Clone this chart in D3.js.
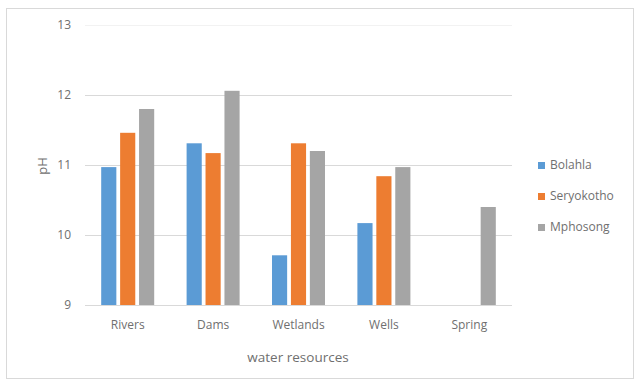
<!DOCTYPE html>
<html><head><meta charset="utf-8">
<script src="https://cdn.jsdelivr.net/npm/d3@7"></script>
<style>body{margin:0;background:#fff}svg{display:block}text{font-family:"Open Sans","Liberation Sans",Arial,sans-serif}</style>
</head><body><svg id="c" width="641" height="383"></svg>
<script>
const categories = ["Rivers","Dams","Wetlands","Wells","Spring"];
const seriesNames = ["Bolahla","Seryokotho","Mphosong"];
const bolahla = [10.97, 11.31, 9.71, 10.17, null];
const seryokotho = [11.46, 11.17, 11.31, 10.84, null];
const mphosong = [11.8, 12.06, 11.2, 10.97, 10.4];
const yTicks = [9,10,11,12,13];
const colors = ["#5B9BD5","#ED7D31","#A5A5A5"];
const seriesValues = [bolahla, seryokotho, mphosong];
const textColor = "#6f6f6f";

const svg = d3.select("#c");
svg.append("rect").attr("x",6.5).attr("y",8.5).attr("width",627).attr("height",370)
  .attr("fill","#fff").attr("stroke","#d9d9d9");

const x = d3.scaleBand().domain(categories).range([85,512]).paddingInner(0).paddingOuter(0);
const y = d3.scaleLinear().domain([9,13]).range([305,25]);
const x1 = d3.scaleBand().domain(seriesNames).range([0,53]).paddingInner(0.2);

// grid
svg.append("g").selectAll("line").data(yTicks).join("line")
  .attr("x1",85).attr("x2",512).attr("y1",d=>Math.round(y(d))+0.5).attr("y2",d=>Math.round(y(d))+0.5)
  .attr("stroke",d=>d===13?"#f2f2f2":"#d9d9d9").attr("stroke-width",1);

// y labels
const yAxis = d3.axisLeft(y).tickValues(yTicks).tickSize(0).tickPadding(0).tickFormat(d3.format("d"));
const ga = svg.append("g").attr("transform","translate(71,0)").call(yAxis);
ga.select(".domain").remove();
ga.selectAll("text").attr("fill",textColor).style("font-size","12px");

// x labels
const xAxis = d3.axisBottom(x).tickSize(0).tickPadding(0);
const gx = svg.append("g").attr("transform","translate(0,320)").call(xAxis);
gx.select(".domain").remove();
gx.selectAll("text").attr("fill",textColor).style("font-size","12px").attr("dy","0.71em");

// bars
const groups = svg.append("g").selectAll("g").data(categories).join("g")
  .attr("transform",d=>`translate(${x(d)+x.bandwidth()/2-26.5},0)`);
groups.selectAll("rect").data((c,i)=>seriesNames.map((s,j)=>({s,j,v:seriesValues[j][i]})).filter(d=>d.v!=null))
  .join("rect")
  .attr("x",d=>x1(d.s)).attr("width",x1.bandwidth())
  .attr("y",d=>y(d.v)).attr("height",d=>y(9)-y(d.v))
  .attr("fill",d=>colors[d.j]);

// axis titles
svg.append("text").attr("x",298).attr("y",357).attr("dy","0.35em").attr("text-anchor","middle")
  .attr("fill",textColor).style("font-size","13.5px").text("water resources");
svg.append("text").attr("transform","translate(42,166) rotate(-90)").attr("dy","0.35em").attr("text-anchor","middle")
  .attr("fill",textColor).style("font-size","13px").text("pH");

// legend
const lg = svg.append("g").selectAll("g").data(seriesNames).join("g")
  .attr("transform",(d,i)=>`translate(538,${165+i*31})`);
lg.append("rect").attr("x",0).attr("y",-3).attr("width",7).attr("height",7).attr("fill",(d,i)=>colors[i]);
lg.append("text").attr("x",12).attr("y",0).attr("dy","0.35em").attr("fill",textColor)
  .style("font-size","12px").text(d=>d);
</script></body></html>
